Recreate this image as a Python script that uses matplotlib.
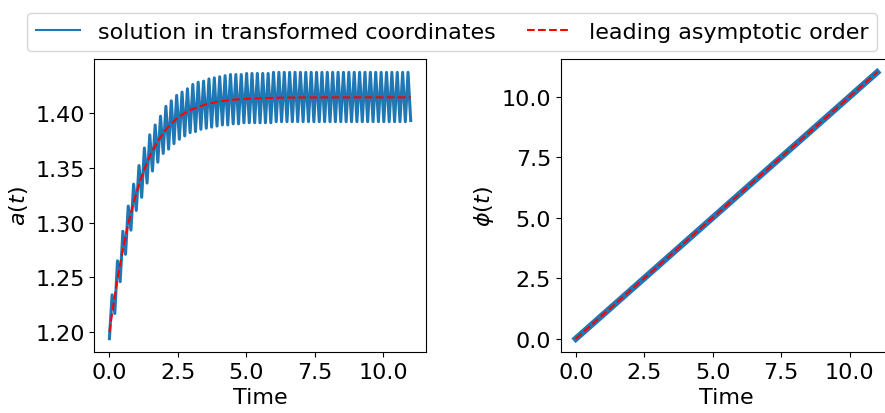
import matplotlib
matplotlib.use("Agg")
import matplotlib.pyplot as plt
import numpy as np

# fast oscillation of a(t): values read at alternating troughs / peaks
t_end = 11.0
trough_vals = [1.194, 1.217, 1.246, 1.271, 1.293, 1.311, 1.323, 1.336, 1.347, 1.355,
               1.363, 1.367, 1.372, 1.376, 1.379, 1.382, 1.383, 1.385, 1.386, 1.387,
               1.388, 1.389, 1.389, 1.390, 1.390, 1.391, 1.391, 1.391, 1.391, 1.391,
               1.391] + [1.392] * 25 + [1.393]
peak_vals = [1.234, 1.265, 1.292, 1.315, 1.335, 1.352, 1.368, 1.380, 1.389, 1.397,
             1.406, 1.411, 1.416, 1.419, 1.422, 1.426, 1.428, 1.429, 1.431, 1.432,
             1.433, 1.434, 1.435, 1.435, 1.435, 1.436, 1.436, 1.436, 1.436, 1.436,
             1.437] + [1.437] * 25

# leading order curve
t_lead = [0, 0.1, 0.2, 0.3, 0.4, 0.5, 0.6, 0.7, 0.8, 0.9, 1.0, 1.25, 1.5, 1.75,
          2.0, 2.25, 2.5, 2.75, 3.0, 3.5, 4.0, 4.5, 5.0, 6.0, 7.0, 8.0, 9.0, 10.0, 11.0]
a_lead = [1.2000, 1.2174, 1.2337, 1.2490, 1.2631, 1.2763, 1.2885, 1.2997, 1.3101,
          1.3196, 1.3284, 1.3471, 1.3620, 1.3737, 1.3829, 1.3901, 1.3956, 1.3999,
          1.4032, 1.4077, 1.4104, 1.4120, 1.4129, 1.4138, 1.4141, 1.4142, 1.4142,
          1.4142, 1.4142]

# phase
t_phi = [0.0, 11.0]
phi_sol = [0.0, 11.0]
phi_lead = [0.0, 11.0]

xticks = [0, 2.5, 5, 7.5, 10]

n = len(trough_vals) + len(peak_vals)
t_sol = np.linspace(0, t_end, n)
a_sol = np.empty(n)
a_sol[0::2] = trough_vals
a_sol[1::2] = peak_vals

plt.rcParams['font.size'] = 16

fig = plt.figure(figsize=(8.85, 4.14), dpi=100)
ax1 = fig.add_axes([0.1066, 0.1473, 0.3745, 0.7077])
ax2 = fig.add_axes([0.6336, 0.1473, 0.3745, 0.7077])

l1, = ax1.plot(t_sol, a_sol, color='tab:blue', lw=2.2,
               label='solution in transformed coordinates')
l2, = ax1.plot(t_lead, a_lead, 'r--', lw=1.5, label='leading asymptotic order')
ax1.set_xlabel('Time')
ax1.set_ylabel('$a(t)$')
ax1.set_xticks(xticks)

ax2.plot(t_phi, phi_sol, color='tab:blue', lw=4.5)
ax2.plot(t_phi, phi_lead, 'r--', lw=1.5)
ax2.set_xlabel('Time')
ax2.set_ylabel(r'$\phi(t)$')
ax2.set_xticks(xticks)
ax2.set_yticks([0, 2.5, 5, 7.5, 10])

leg = fig.legend(handles=[l1, l2], loc='upper center', ncol=2,
                 bbox_to_anchor=(452 / 885, 1 - 3 / 414), columnspacing=1.4)
leg.get_lines()[0].set_linewidth(1.5)

fig.savefig('out.png', dpi=100)
